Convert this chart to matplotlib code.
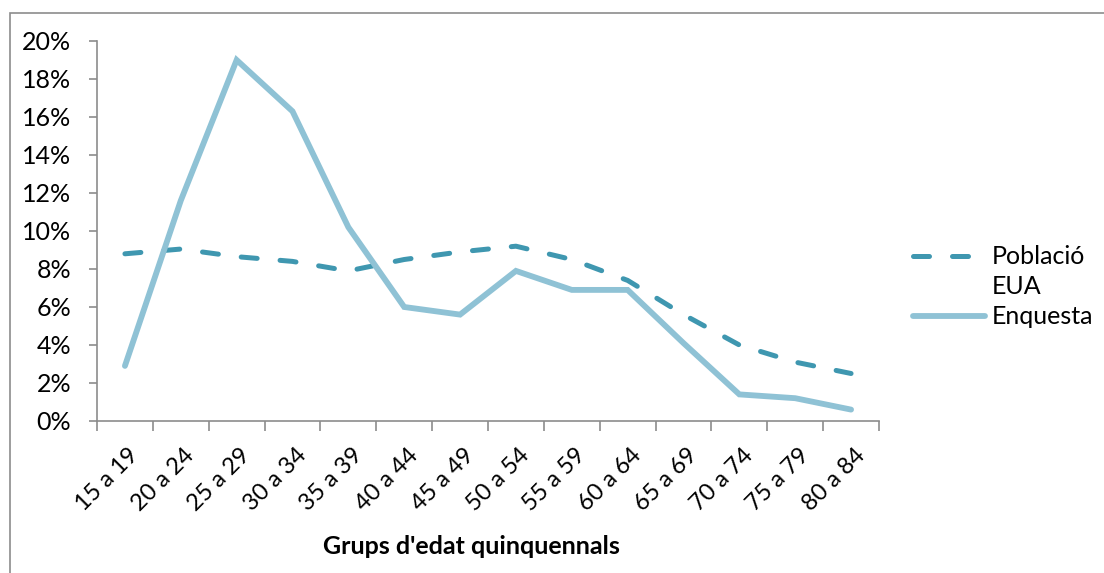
import matplotlib
matplotlib.use("Agg")
import matplotlib.pyplot as plt
import matplotlib.transforms as mtransforms
from matplotlib.lines import Line2D
from matplotlib.patches import Rectangle
from matplotlib.ticker import FuncFormatter, FixedLocator, NullFormatter

categories = ["15 a 19", "20 a 24", "25 a 29", "30 a 34", "35 a 39", "40 a 44", "45 a 49",
              "50 a 54", "55 a 59", "60 a 64", "65 a 69", "70 a 74", "75 a 79", "80 a 84"]
poblacio = [8.8, 9.05, 8.65, 8.4, 7.9, 8.5, 8.9, 9.2, 8.5, 7.4, 5.6, 4.0, 3.1, 2.5]
enquesta = [2.9, 11.6, 19.0, 16.3, 10.2, 6.0, 5.6, 7.9, 6.9, 6.9, 4.1, 1.4, 1.2, 0.6]
yticks = [0, 2, 4, 6, 8, 10, 12, 14, 16, 18, 20]
label_poblacio = "Població\nEUA"
label_enquesta = "Enquesta"
xlabel = "Grups d'edat quinquennals"

W, H = 1104, 573
FONT = "Lato"
c_pob = "#3f97b0"
c_enq = "#8fc2d5"
gray = "#8c8c8c"

fig = plt.figure(figsize=(W / 100, H / 100), dpi=100)
fig.patch.set_facecolor("white")

# outer chart frame (cropped on right/bottom)
fig.add_artist(Rectangle((10 / W, -0.1), 1.2, 1.1 - 13 / H, transform=fig.transFigure,
                         fill=False, edgecolor=gray, linewidth=1.2))

ax = fig.add_axes([97 / W, 1 - 421 / H, (879 - 97) / W, (421 - 41) / H])
x = list(range(len(categories)))
ax.plot(x, poblacio, color=c_pob, linewidth=3.6, linestyle=(0, (3.2, 4.6)),
        dash_capstyle="round", solid_capstyle="round")
ax.plot(x, enquesta, color=c_enq, linewidth=4.2, solid_capstyle="round",
        solid_joinstyle="miter")

ax.set_xlim(-0.5, len(categories) - 0.5)
ax.set_ylim(0, 20)
ax.set_yticks(yticks)
ax.yaxis.set_major_formatter(FuncFormatter(lambda v, p: f"{int(v)}%"))

ax.xaxis.set_major_locator(FixedLocator([i - 0.5 for i in range(len(categories) + 1)]))
ax.xaxis.set_major_formatter(NullFormatter())
ax.xaxis.set_minor_locator(FixedLocator(x))
ax.set_xticklabels(categories, minor=True)
ax.tick_params(axis="x", which="minor", length=0, pad=17)
ax.tick_params(axis="x", which="major", length=7, width=1.2, color=gray, direction="out")
ax.tick_params(axis="y", length=6, width=1.2, color=gray, direction="out", pad=12.5)

shift = mtransforms.ScaledTranslation(3 / 100, 0, fig.dpi_scale_trans)
for lbl in ax.get_xticklabels(minor=True):
    lbl.set_rotation(45)
    lbl.set_ha("right")
    lbl.set_va("top")
    lbl.set_rotation_mode("anchor")
    lbl.set_fontfamily(FONT)
    lbl.set_fontsize(17)
    lbl.set_transform(lbl.get_transform() + shift)
for lbl in ax.get_yticklabels():
    lbl.set_fontfamily(FONT)
    lbl.set_fontsize(18)

for s in ["top", "right"]:
    ax.spines[s].set_visible(False)
for s in ["left", "bottom"]:
    ax.spines[s].set_color(gray)
    ax.spines[s].set_linewidth(1.2)

fig.text(471 / W, 1 - 547 / H, xlabel, ha="center", va="center", fontsize=18,
         fontweight="bold", fontfamily=FONT)

# legend
fig.add_artist(Line2D([913 / W, 985 / W], [1 - 256 / H] * 2, transform=fig.transFigure,
                      color=c_pob, linewidth=3.6, linestyle=(0, (3.2, 4.6)),
                      dash_capstyle="round"))
fig.add_artist(Line2D([913 / W, 985 / W], [1 - 316 / H] * 2, transform=fig.transFigure,
                      color=c_enq, linewidth=4.2, solid_capstyle="round"))
fig.text(992 / W, 1 - 256 / H, label_poblacio.split("\n")[0], ha="left", va="center",
         fontsize=18, fontfamily=FONT)
fig.text(992 / W, 1 - 287 / H, label_poblacio.split("\n")[1], ha="left", va="center",
         fontsize=18, fontfamily=FONT)
fig.text(992 / W, 1 - 316 / H, label_enquesta, ha="left", va="center",
         fontsize=18, fontfamily=FONT)

fig.savefig("out.png", dpi=100, facecolor="white")
